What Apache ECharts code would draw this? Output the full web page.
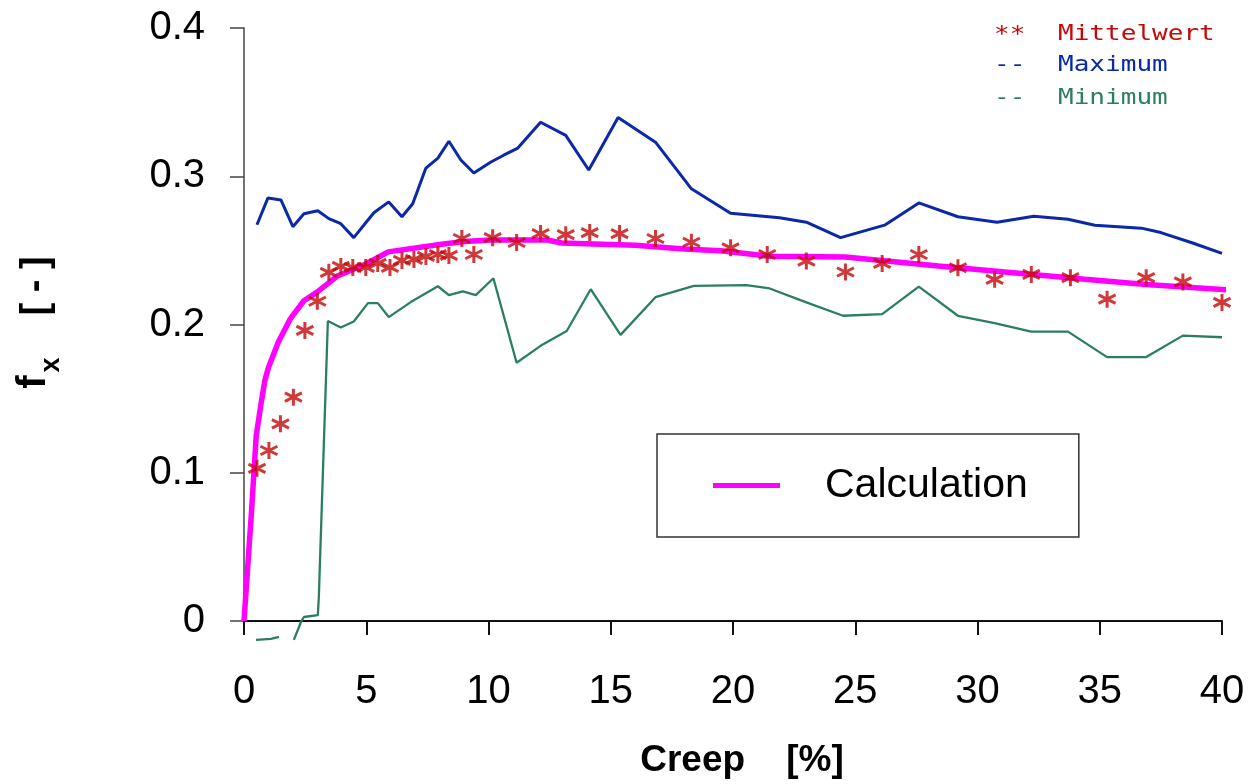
<!DOCTYPE html>
<html>
<head>
<meta charset="utf-8">
<script src="https://cdn.jsdelivr.net/npm/echarts@6/dist/echarts.min.js"></script>
<style>
  html, body { margin: 0; padding: 0; background: #fff; }
  #chart { width: 1252px; height: 784px; }
</style>
</head>
<body>
<div id="chart"></div>
<script>
// Axis ticks
const xTicks = [0, 5, 10, 15, 20, 25, 30, 35, 40];
const yTicks = [0, 0.1, 0.2, 0.3, 0.4];

// Mean of the measurements (creep %, f_x)
const mittelwert = [
  [0.53, 0.103], [1.02, 0.115], [1.49, 0.133], [2.02, 0.151], [2.49, 0.196],
  [3.0, 0.2157], [3.47, 0.2352], [3.96, 0.2392], [4.45, 0.2385], [4.98, 0.2385],
  [5.47, 0.2412], [5.97, 0.2385], [6.46, 0.2432], [6.95, 0.2439], [7.44, 0.2459],
  [7.93, 0.2472], [8.38, 0.2466], [8.91, 0.258], [9.4, 0.2472], [10.17, 0.2586],
  [11.15, 0.2553], [12.13, 0.2613], [13.16, 0.2606], [14.14, 0.262], [15.36, 0.2613],
  [16.83, 0.258], [18.3, 0.2555], [19.9, 0.2517], [21.4, 0.2472], [23.0, 0.2428],
  [24.6, 0.2354], [26.1, 0.2412], [27.6, 0.2472], [29.2, 0.2383], [30.7, 0.2305],
  [32.2, 0.2338], [33.8, 0.2316], [35.3, 0.2171], [36.9, 0.2316], [38.4, 0.2287],
  [40.0, 0.2149]
];

// Upper envelope of the measurements
const maximum = [
  [0.53, 0.2673], [0.98, 0.2854], [1.51, 0.284], [2.0, 0.266], [2.45, 0.2747],
  [3.02, 0.2767], [3.47, 0.2714], [3.96, 0.268], [4.49, 0.2586], [5.31, 0.2754],
  [5.92, 0.2827], [6.46, 0.2727], [6.9, 0.2814], [7.44, 0.3055], [7.93, 0.3122],
  [8.38, 0.3236], [8.87, 0.311], [9.4, 0.3022], [10.1, 0.3096], [10.62, 0.3142],
  [11.2, 0.319], [12.13, 0.3364], [13.16, 0.3276], [14.1, 0.3042], [15.3, 0.3397],
  [16.83, 0.323], [18.3, 0.2915], [19.9, 0.275], [21.9, 0.272], [23.0, 0.269],
  [24.4, 0.2586], [26.2, 0.267], [27.6, 0.282], [29.2, 0.2727], [30.8, 0.269],
  [32.3, 0.273], [33.7, 0.271], [34.8, 0.267], [36.7, 0.265], [37.5, 0.262],
  [38.8, 0.255], [40.0, 0.248]
];

// Lower envelope of the measurements (null = pen lifted)
const minimum = [
  [0.49, -0.0127], [1.1, -0.012], [1.43, -0.0107], null,
  [2.04, -0.0127], [2.33, -0.0007], [2.45, 0.0027], [3.02, 0.004], [3.06, 0.016],
  [3.43, 0.2023], [3.96, 0.198], [4.49, 0.202], [5.07, 0.2144], [5.47, 0.2144],
  [5.92, 0.205], [6.82, 0.2151], [7.93, 0.2258], [8.38, 0.2198], [8.95, 0.2224],
  [9.48, 0.2198], [10.2, 0.2312], [11.15, 0.1742], [12.13, 0.1856], [13.2, 0.1956],
  [14.18, 0.2238], [15.4, 0.193], [16.83, 0.2184], [18.4, 0.226], [20.55, 0.2265],
  [21.5, 0.2243], [23.0, 0.2149], [24.5, 0.2059], [26.1, 0.207], [27.6, 0.2256],
  [29.2, 0.2059], [30.7, 0.201], [32.2, 0.1952], [33.7, 0.1952], [35.3, 0.178],
  [36.9, 0.178], [38.4, 0.1925], [40.0, 0.1914]
];

// Calculated curve
const calculation = [
  [0, 0], [0.3, 0.072], [0.5, 0.125], [0.7, 0.147], [0.85, 0.162], [1.0, 0.171],
  [1.4, 0.188], [1.9, 0.204], [2.45, 0.216], [3.0, 0.222], [3.8, 0.2325],
  [5.0, 0.241], [5.9, 0.249], [8.0, 0.254], [9.0, 0.256], [10.1, 0.257],
  [12.4, 0.257], [13.0, 0.255], [16.0, 0.2535], [18.0, 0.251], [19.5, 0.2497],
  [21.5, 0.246], [24.6, 0.2455], [28.4, 0.2395], [34.4, 0.2305], [36.9, 0.227],
  [41.1, 0.2225]
];

const RED = '#c40808';
const BLUE = '#0a28a8';
const GREEN = '#2a7f5e';
const MAGENTA = '#ff00ff';
const SANS = '"Liberation Sans", Arial, sans-serif';
const MONO = '"DejaVu Sans Mono", monospace';

// six-armed asterisk drawn as strokes
const starPath = 'path://M0,-10L0,10M-8.66,-5L8.66,5M-8.66,5L8.66,-5';

const chart = echarts.init(document.getElementById('chart'), null, { renderer: 'canvas' });

function monoLabel(text, x, y, color) {
  return {
    type: 'text', x: x, y: y, scaleX: 1.24, silent: true,
    style: { text: text, fill: color, font: '21px ' + MONO, align: 'left', verticalAlign: 'middle' }
  };
}

chart.setOption({
  animation: false,
  backgroundColor: '#fff',
  grid: { left: 244, top: 28, right: 30, bottom: 160, containLabel: false },
  xAxis: {
    type: 'value', min: xTicks[0], max: xTicks[xTicks.length - 1], interval: xTicks[1] - xTicks[0],
    axisLine: { show: true, onZero: false, lineStyle: { color: '#111', width: 2 } },
    axisTick: { show: true, inside: false, length: 14, lineStyle: { color: '#111', width: 2 } },
    splitLine: { show: false },
    axisLabel: { fontSize: 40, color: '#000', fontFamily: SANS, margin: 51 },
    name: 'Creep    [%]', nameLocation: 'middle', nameGap: 121,
    nameTextStyle: { fontSize: 37, fontWeight: 'bold', color: '#000', fontFamily: SANS, padding: [0, 0, 0, 18] }
  },
  yAxis: {
    type: 'value', min: yTicks[0], max: yTicks[yTicks.length - 1], interval: yTicks[1] - yTicks[0],
    axisLine: { show: true, lineStyle: { color: '#444', width: 1.5 } },
    axisTick: { show: true, inside: false, length: 14, lineStyle: { color: '#444', width: 1.5 } },
    splitLine: { show: false },
    axisLabel: {
      fontSize: 40, color: '#000', fontFamily: SANS, margin: 39,
      formatter: v => (v === 0 ? '0' : v.toFixed(1))
    }
  },
  legend: {
    data: [{ name: 'Calculation', icon: 'rect' }],
    left: 657, top: 434, orient: 'horizontal',
    itemWidth: 67, itemHeight: 5,
    padding: [31, 51, 31, 56],
    borderColor: '#333', borderWidth: 1.5, backgroundColor: '#fff',
    selectedMode: false,
    textStyle: { fontSize: 41, color: '#000', fontFamily: SANS, padding: [0, 0, 0, 40] }
  },
  graphic: [
    // y-axis title f_x [-], rotated
    { type: 'text', x: 34, y: 382, rotation: Math.PI / 2, silent: true,
      style: { text: 'f', font: 'bold 40px ' + SANS, fill: '#000', align: 'center', verticalAlign: 'middle' } },
    { type: 'text', x: 52, y: 365, rotation: Math.PI / 2, silent: true,
      style: { text: 'x', font: 'bold 27px ' + SANS, fill: '#000', align: 'center', verticalAlign: 'middle' } },
    { type: 'text', x: 37, y: 286, rotation: Math.PI / 2, silent: true,
      style: { text: '[ - ]', font: 'bold 38px ' + SANS, fill: '#000', align: 'center', verticalAlign: 'middle' } },
    // key of the measured curves
    monoLabel('**', 994, 36, RED),
    monoLabel('Mittelwert', 1058, 35, RED),
    monoLabel('--', 994, 66, BLUE),
    monoLabel('Maximum', 1058, 66, BLUE),
    monoLabel('--', 994, 99, GREEN),
    monoLabel('Minimum', 1058, 99, GREEN)
  ],
  series: [
    {
      name: 'Maximum', type: 'line', data: maximum, showSymbol: false, clip: false,
      lineStyle: { color: BLUE, width: 3 }, itemStyle: { color: BLUE }, z: 2
    },
    {
      name: 'Minimum', type: 'line', data: minimum, showSymbol: false, clip: false, connectNulls: false,
      lineStyle: { color: GREEN, width: 2.3 }, itemStyle: { color: GREEN }, z: 2
    },
    {
      name: 'Calculation', type: 'line', data: calculation, showSymbol: false, clip: false,
      lineStyle: { color: MAGENTA, width: 5.5 }, itemStyle: { color: MAGENTA }, z: 3
    },
    {
      name: 'Mittelwert', type: 'scatter', data: mittelwert, clip: false,
      symbol: starPath, symbolSize: 17,
      itemStyle: { color: 'rgba(0,0,0,0)', borderColor: RED, borderWidth: 3 }, z: 4
    }
  ]
});
</script>
</body>
</html>
